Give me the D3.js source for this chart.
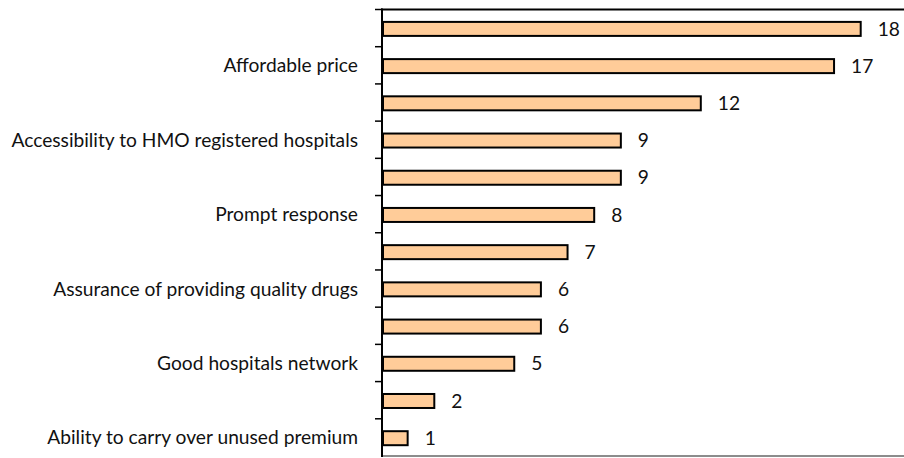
<!DOCTYPE html>
<html>
<head>
<meta charset="utf-8">
<script src="https://cdn.jsdelivr.net/npm/d3@7/dist/d3.min.js"></script>
<style>
  html, body { margin: 0; padding: 0; background: #ffffff; }
  svg { display: block; }
</style>
</head>
<body>
<svg id="chart" width="904" height="458"></svg>
<script>
// Category labels, top to bottom (every other label is hidden in the original chart)
const categories = [
  "",
  "Affordable price",
  "",
  "Accessibility to HMO registered hospitals",
  "",
  "Prompt response",
  "",
  "Assurance of providing quality drugs",
  "",
  "Good hospitals network",
  "",
  "Ability to carry over unused premium"
];
const values = [18, 17, 12, 9, 9, 8, 7, 6, 6, 5, 2, 1];
const xDomain = [0, 18];

(function () {
const svg = d3.select("#chart");
const W = 904, H = 458;
const plotLeft = 382, plotTop = 9.5, plotBottom = 456;
const unit = 26.65;

const x = d3.scaleLinear().domain(xDomain).range([plotLeft, plotLeft + unit * xDomain[1]]);
const idx = d3.range(categories.length);
const y = d3.scaleBand().domain(idx).range([plotTop, plotBottom]).padding(0);
const step = y.step();
const barH = 14;
const barOff = (step - barH) / 2 + 0.8;

const fontFam = "Lato, 'Liberation Sans', sans-serif";
const fs = 19.2;

// top border line
svg.append("line")
  .attr("x1", plotLeft - 1).attr("x2", W)
  .attr("y1", plotTop).attr("y2", plotTop)
  .attr("stroke", "#000").attr("stroke-width", 2);
// bottom line (gray)
svg.append("line")
  .attr("x1", plotLeft).attr("x2", W)
  .attr("y1", plotBottom).attr("y2", plotBottom)
  .attr("stroke", "#8c8c8c").attr("stroke-width", 2);

// bars
svg.append("g").selectAll("rect")
  .data(values)
  .join("rect")
  .attr("x", x(0) + 1)
  .attr("y", (d, i) => y(i) + barOff)
  .attr("width", d => x(d) - x(0) - 2)
  .attr("height", barH)
  .attr("fill", "#ffcc99")
  .attr("stroke", "#000")
  .attr("stroke-width", 2);

// value labels
svg.append("g").selectAll("text")
  .data(values)
  .join("text")
  .attr("x", d => x(d) + 16)
  .attr("y", (d, i) => y(i) + barOff + barH / 2)
  .attr("dy", "0.35em")
  .attr("font-family", fontFam)
  .attr("font-size", fs)
  .attr("fill", "#111")
  .text(d => d);

// category axis (labels)
const axis = d3.axisLeft(y)
  .tickSize(0)
  .tickPadding(24)
  .tickFormat(i => categories[i]);
const gA = svg.append("g").attr("transform", `translate(${plotLeft},${barOff + barH / 2 - step / 2})`).call(axis);
gA.select(".domain").remove();
gA.selectAll("text")
  .attr("font-family", fontFam)
  .attr("font-size", fs)
  .attr("fill", "#111");

// boundary tick marks
const bounds = d3.range(categories.length).map(i => plotTop + i * step);
svg.append("g").selectAll("line")
  .data(bounds)
  .join("line")
  .attr("x1", plotLeft - 7).attr("x2", plotLeft)
  .attr("y1", d => d).attr("y2", d => d)
  .attr("stroke", "#000").attr("stroke-width", 1.5);

// vertical axis line
svg.append("line")
  .attr("x1", plotLeft).attr("x2", plotLeft)
  .attr("y1", plotTop - 1).attr("y2", plotBottom + 1)
  .attr("stroke", "#000").attr("stroke-width", 2);
})();
</script>
</body>
</html>
